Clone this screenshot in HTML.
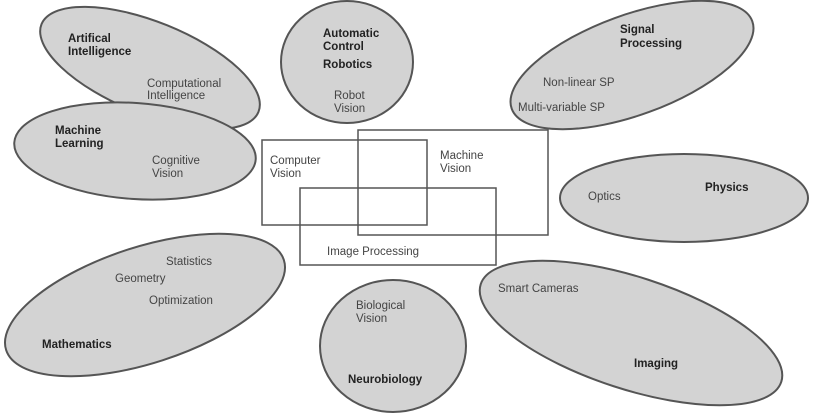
<!DOCTYPE html>
<html><head><style>html,body{margin:0;background:#fff;overflow:hidden;width:822px;height:416px}svg{display:block}</style></head><body>
<svg width="822" height="416" xmlns="http://www.w3.org/2000/svg" font-family="Liberation Sans, sans-serif" font-size="11.5" fill="#333">
<g fill="#d3d3d3" stroke="#555" stroke-width="2">
<ellipse cx="150" cy="68" rx="117" ry="46" transform="rotate(22 150 68)"/>
<ellipse cx="135" cy="151" rx="121" ry="48" transform="rotate(4 135 151)"/>
<ellipse cx="347" cy="62" rx="66" ry="61"/>
<ellipse cx="632" cy="65" rx="128" ry="50" transform="rotate(-20 632 65)"/>
<ellipse cx="684" cy="198" rx="124" ry="44"/>
<ellipse cx="145" cy="305" rx="146" ry="58" transform="rotate(-18 145 305)"/>
<ellipse cx="393" cy="346" rx="73" ry="66"/>
<ellipse cx="631" cy="333" rx="158" ry="56" transform="rotate(18 631 333)"/>
</g>
<g fill="none" stroke="#555" stroke-width="1.5">
<rect x="262" y="140" width="165" height="85"/>
<rect x="358" y="130" width="190" height="105"/>
<rect x="300" y="188" width="196" height="77"/>
</g>
<g font-weight="bold" fill="#222">
<text x="68" y="42">Artifical</text><text x="68" y="55">Intelligence</text>
<text x="55" y="134">Machine</text><text x="55" y="147">Learning</text>
<text x="323" y="37">Automatic</text><text x="323" y="50">Control</text>
<text x="323" y="68">Robotics</text>
<text x="620" y="33">Signal</text><text x="620" y="47">Processing</text>
<text x="705" y="191">Physics</text>
<text x="42" y="348">Mathematics</text>
<text x="348" y="383">Neurobiology</text>
<text x="634" y="367">Imaging</text>
</g>
<g fill="#444">
<text x="147" y="87">Computational</text><text x="147" y="99">Intelligence</text>
<text x="152" y="164">Cognitive</text><text x="152" y="177">Vision</text>
<text x="334" y="99">Robot</text><text x="334" y="112">Vision</text>
<text x="543" y="86">Non-linear SP</text>
<text x="518" y="111">Multi-variable SP</text>
<text x="588" y="200">Optics</text>
<text x="270" y="164">Computer</text><text x="270" y="177">Vision</text>
<text x="440" y="159">Machine</text><text x="440" y="172">Vision</text>
<text x="327" y="255">Image Processing</text>
<text x="166" y="265">Statistics</text>
<text x="115" y="282">Geometry</text>
<text x="149" y="304">Optimization</text>
<text x="356" y="309">Biological</text><text x="356" y="322">Vision</text>
<text x="498" y="292">Smart Cameras</text>
</g>
</svg>
</body></html>
